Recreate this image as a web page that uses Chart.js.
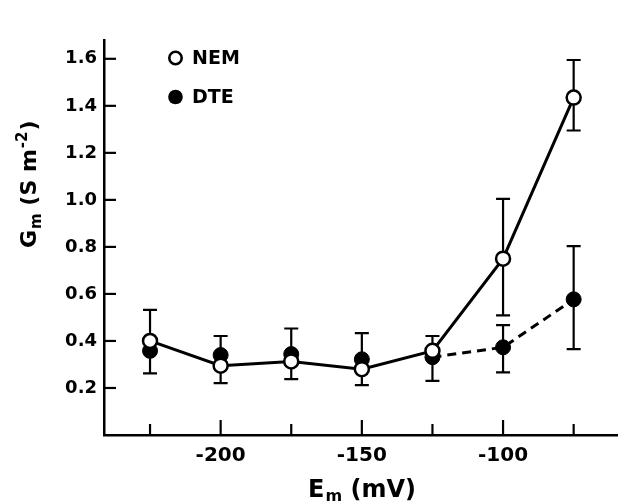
<!DOCTYPE html>
<html><head><meta charset="utf-8">
<script src="https://cdn.jsdelivr.net/npm/chart.js@4"></script>
<style>html,body{margin:0;padding:0;background:#fff}#wrap{width:618px;height:504px}</style>
</head><body><div id="wrap"><canvas id="c" width="618" height="504"></canvas></div>
<script>
const voltages = [-225, -200, -175, -150, -125, -100, -75];
const nemValues = [0.40, 0.295, 0.313, 0.28, 0.358, 0.75, 1.435];
const dteValues = [0.358, 0.34, 0.344, 0.322, 0.331, 0.373, 0.577];
const nemErrLow  = [null, null, null, null, null, 0.509, 1.295];
const nemErrHigh = [null, null, null, null, null, 1.004, 1.595];
const dteErrLow  = [0.262, 0.221, 0.238, 0.212, 0.230, 0.266, 0.365];
const dteErrHigh = [0.532, 0.421, 0.453, 0.433, 0.421, 0.467, 0.803];
const yTicks = [0.2, 0.4, 0.6, 0.8, 1.0, 1.2, 1.4, 1.6];
const xTicks = [-225, -200, -175, -150, -125, -100, -75];
const xLabelled = [-200, -150, -100];

const FONT = '"DejaVu Sans", "Liberation Sans", sans-serif';

const errPlugin = {
  id: 'err',
  beforeDatasetsDraw(chart) {
    const ctx = chart.ctx, xs = chart.scales.x, ys = chart.scales.y;
    ctx.save();
    ctx.strokeStyle = '#000'; ctx.lineWidth = 2.2;
    const draw = (lo, hi) => {
      voltages.forEach((v, i) => {
        if (lo[i] == null) return;
        const x = xs.getPixelForValue(v);
        const y1 = ys.getPixelForValue(lo[i]), y2 = ys.getPixelForValue(hi[i]);
        ctx.beginPath();
        ctx.moveTo(x, y1); ctx.lineTo(x, y2);
        ctx.moveTo(x - 7, y1); ctx.lineTo(x + 7, y1);
        ctx.moveTo(x - 7, y2); ctx.lineTo(x + 7, y2);
        ctx.stroke();
      });
    };
    draw(dteErrLow, dteErrHigh);
    draw(nemErrLow, nemErrHigh);
    ctx.restore();
  },
  afterDraw(chart) {
    const ctx = chart.ctx, xs = chart.scales.x, ys = chart.scales.y;
    const a = chart.chartArea;
    ctx.save();
    ctx.strokeStyle = '#000'; ctx.lineWidth = 2.2;
    // inward ticks
    yTicks.forEach(v => {
      const y = ys.getPixelForValue(v);
      ctx.beginPath(); ctx.moveTo(a.left, y); ctx.lineTo(a.left + 12, y); ctx.stroke();
    });
    xTicks.forEach(v => {
      const x = xs.getPixelForValue(v);
      const len = xLabelled.includes(v) ? 15 : 11;
      ctx.beginPath(); ctx.moveTo(x, a.bottom); ctx.lineTo(x, a.bottom - len); ctx.stroke();
    });
    // legend
    ctx.fillStyle = '#000';
    ctx.font = 'bold 19px ' + FONT;
    ctx.textBaseline = 'middle';
    ctx.beginPath(); ctx.arc(175.5, 58, 6.2, 0, Math.PI * 2);
    ctx.fillStyle = '#fff'; ctx.fill(); ctx.lineWidth = 2.6; ctx.stroke();
    ctx.fillStyle = '#000';
    ctx.fillText(chart.data.datasets[0].label, 192, 59);
    ctx.beginPath(); ctx.arc(175.5, 97, 7.3, 0, Math.PI * 2); ctx.fill();
    ctx.fillText(chart.data.datasets[1].label, 192, 98);
    // x title: E_m (mV)
    ctx.textBaseline = 'alphabetic';
    ctx.font = 'bold 24px ' + FONT;
    let x0 = 308, yb = 497;
    ctx.fillText('E', x0, yb);
    let w = ctx.measureText('E').width;
    ctx.font = 'bold 16px ' + FONT;
    ctx.fillText('m', x0 + w + 1, yb + 4);
    let w2 = ctx.measureText('m').width;
    ctx.font = 'bold 24px ' + FONT;
    ctx.fillText(' (mV)', x0 + w + w2 + 1, yb);
    // y title: G_m (S m^-2)
    ctx.translate(36, 248);
    ctx.rotate(-Math.PI / 2);
    ctx.font = 'bold 22px ' + FONT;
    ctx.fillText('G', 0, 0);
    w = ctx.measureText('G').width;
    ctx.font = 'bold 15px ' + FONT;
    ctx.fillText('m', w + 1, 5);
    w2 = ctx.measureText('m').width;
    ctx.font = 'bold 22px ' + FONT;
    const t = ' (S m';
    ctx.fillText(t, w + w2 + 1, 0);
    const w3 = ctx.measureText(t).width;
    ctx.font = 'bold 15px ' + FONT;
    ctx.fillText('-2', w + w2 + w3 + 2, -9);
    const w4 = ctx.measureText('-2').width;
    ctx.font = 'bold 22px ' + FONT;
    ctx.fillText(')', w + w2 + w3 + w4 + 3, 0);
    ctx.restore();
  }
};

new Chart(document.getElementById('c'), {
  type: 'line',
  data: {
    datasets: [
      {
        label: 'NEM',
        data: voltages.map((v, i) => ({ x: v, y: nemValues[i] })),
        borderColor: '#000', borderWidth: 3,
        pointRadius: 7, pointBorderWidth: 2.5,
        pointBackgroundColor: '#fff', pointBorderColor: '#000'
      },
      {
        label: 'DTE',
        data: voltages.map((v, i) => ({ x: v, y: dteValues[i] })),
        borderColor: '#000', borderWidth: 3,
        pointRadius: 7.5, pointBorderWidth: 1,
        pointBackgroundColor: '#000', pointBorderColor: '#000',
        segment: {
          borderColor: c => c.p0DataIndex < 4 ? 'rgba(0,0,0,0)' : '#000',
          borderDash: c => c.p0DataIndex < 4 ? undefined : [9, 6]
        }
      }
    ]
  },
  options: {
    responsive: false, animation: false,
    layout: { autoPadding: false, padding: { top: 40, right: 0, left: 0, bottom: 0 } },
    plugins: { legend: { display: false }, tooltip: { enabled: false } },
    scales: {
      x: {
        type: 'linear', min: -241.3, max: -59.3,
        afterBuildTicks: s => { s.ticks = xTicks.map(v => ({ value: v })); },
        afterFit: s => { s.height = 69; s.paddingLeft = 0; s.paddingRight = 0; },
        grid: { display: false, drawTicks: false },
        border: { display: true, color: '#000', width: 2.5 },
        ticks: {
          padding: 9, color: '#000', autoSkip: false, maxRotation: 0,
          font: { family: FONT, size: 20, weight: 'bold' },
          callback: v => xLabelled.includes(v) ? String(v) : ''
        }
      },
      y: {
        type: 'linear', min: 0, max: 1.68,
        afterBuildTicks: s => { s.ticks = yTicks.map(v => ({ value: v })); },
        afterFit: s => { s.width = 104; s.paddingTop = 0; s.paddingBottom = 0; },
        grid: { display: false, drawTicks: false },
        border: { display: true, color: '#000', width: 2.5 },
        ticks: {
          padding: 7, color: '#000',
          font: { family: FONT, size: 18, weight: 'bold' },
          callback: v => v.toFixed(1)
        }
      }
    }
  },
  plugins: [errPlugin]
});
</script>
</body></html>
